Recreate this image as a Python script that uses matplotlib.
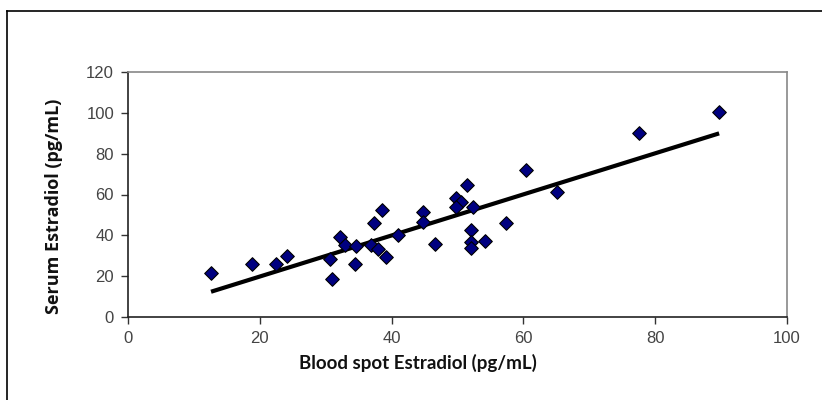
import numpy as np
import matplotlib
matplotlib.use("Agg")
import matplotlib.pyplot as plt
from matplotlib.lines import Line2D

blood_spot = [12.6, 18.8, 22.5, 24.1, 30.7, 30.9, 32.2, 32.9, 34.6, 34.4, 36.9,
              37.3, 38.0, 38.6, 39.2, 40.9, 44.8, 44.7, 46.6, 49.7, 50.5, 49.7,
              51.4, 52.4, 52.0, 52.1, 52.1, 54.1, 57.4, 60.4, 65.1, 77.6, 89.7]
serum = [21.5, 26.1, 26.1, 29.7, 28.5, 18.6, 39.1, 35.1, 34.7, 26.1, 35.5,
         46.0, 33.3, 52.5, 29.3, 40.1, 51.5, 46.3, 35.7, 58.5, 56.3, 53.8,
         64.6, 54.1, 42.4, 36.8, 33.6, 37.0, 46.0, 71.9, 61.3, 90.0, 100.3]
trend_slope = 1.006
trend_intercept = -0.3
x_ticks = [0, 20, 40, 60, 80, 100]
y_ticks = [0, 20, 40, 60, 80, 100, 120]

W, H = 822, 400
fig = plt.figure(figsize=(W / 100, H / 100), dpi=100)
ax = fig.add_axes([128 / W, 1 - 317 / H, (787 - 128) / W, (317 - 72) / H])

xs = np.array([min(blood_spot), max(blood_spot)])
ax.plot(xs, trend_slope * xs + trend_intercept, color="black", lw=3.0,
        solid_capstyle="butt", zorder=3)
ax.scatter(blood_spot, serum, marker="D", s=48, facecolor="#000080",
           edgecolor="black", linewidths=0.8, zorder=4)

ax.set_xlim(0, 100)
ax.set_ylim(0, 120)
ax.set_xticks(x_ticks)
ax.set_yticks(y_ticks)
tick_font = ["Liberation Sans Narrow", "Liberation Sans", "DejaVu Sans"]
for lab in ax.get_xticklabels() + ax.get_yticklabels():
    lab.set_family(tick_font)
    lab.set_fontsize(12)
    lab.set_color("#444444")
ax.tick_params(direction="out", length=5, width=1, color="#333333", pad=5)
for side in ["left", "bottom"]:
    ax.spines[side].set_color("#222222")
    ax.spines[side].set_linewidth(1.2)
for side in ["top", "right"]:
    ax.spines[side].set_color("#888888")
    ax.spines[side].set_linewidth(1.2)

fig.text(418 / W, 1 - 363 / H, "Blood spot Estradiol (pg/mL)", ha="center",
         va="center", fontsize=13.5, fontweight="bold", family=["Lato", "DejaVu Sans"],
         color="#111111")
fig.text(54 / W, 1 - 206 / H, "Serum Estradiol (pg/mL)", ha="center",
         va="center", rotation=90, fontsize=13, fontweight="bold",
         family=["Open Sans", "DejaVu Sans"], color="#111111")

fig.add_artist(Line2D([7 / W, 7 / W], [0, 1 - 11 / H], color="black", lw=1.2,
                      transform=fig.transFigure))
fig.add_artist(Line2D([7 / W, 1], [1 - 11 / H, 1 - 11 / H], color="black", lw=1.2,
                      transform=fig.transFigure))

fig.savefig("out.png", dpi=100)
